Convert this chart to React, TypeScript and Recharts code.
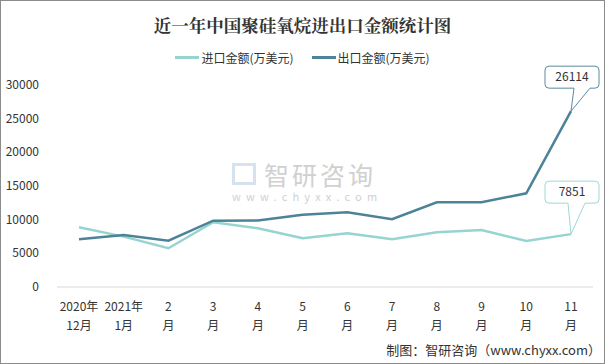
import React from 'react';
import { LineChart, Line, XAxis, YAxis, LabelList } from 'recharts';

const months = ['2020年12月', '2021年1月', '2月', '3月', '4月', '5月', '6月', '7月', '8月', '9月', '10月', '11月'];
const importValues = [8870, 7480, 5750, 9610, 8720, 7230, 7970, 7080, 8130, 8470, 6830, 7851];
const exportValues = [7080, 7720, 6880, 9850, 9870, 10740, 11100, 10060, 12580, 12580, 13920, 26114];
const yTicks = [0, 5000, 10000, 15000, 20000, 25000, 30000];

const IMPORT_NAME = '进口金额(万美元)';
const EXPORT_NAME = '出口金额(万美元)';
const IMPORT_COLOR = '#96d4d0';
const EXPORT_COLOR = '#4d8399';
const FONT = '"Microsoft YaHei", "Noto Sans CJK SC", sans-serif';

const data = months.map((m, i) => ({
  month: m,
  imp: importValues[i],
  exp: exportValues[i],
}));

// 横轴两行标签
const splitLabel = (s: string) => {
  const i = s.indexOf('年');
  if (i >= 0) return [s.slice(0, i + 1), s.slice(i + 1)];
  return [s.replace('月', ''), '月'];
};

const XTick = ({ x, y, payload }: any) => {
  const [a, b] = splitLabel(payload.value);
  return (
    <g>
      <text x={x} y={y + 16} textAnchor="middle" fontSize={12} fill="#333" fontFamily={FONT}>{a}</text>
      <text x={x} y={y + 35} textAnchor="middle" fontSize={12} fill="#333" fontFamily={FONT}>{b}</text>
    </g>
  );
};

const YTick = ({ y, payload }: any) => (
  <text x={39} y={y + 4} textAnchor="end" fontSize={12} fill="#333" fontFamily={FONT}>{payload.value}</text>
);

// 最后一个点的气泡标注
const makeCallout = (color: string, lift: number, p1: number, p2: number) => (props: any) => {
  const { x, y, value, index } = props;
  if (index !== months.length - 1) return null;
  const l = x - 26, r = x + 28, b = y - lift, t = b - 22, k = 4;
  const d = `M${l + k},${t} H${r - k} Q${r},${t} ${r},${t + k} V${b - k} Q${r},${b} ${r - k},${b} H${x + p2} L${x},${y} L${x + p1},${b} H${l + k} Q${l},${b} ${l},${b - k} V${t + k} Q${l},${t} ${l + k},${t} Z`;
  return (
    <g>
      <path d={d} fill="#fff" stroke={color} strokeWidth={1} />
      <text x={(l + r) / 2} y={t + 15} textAnchor="middle" fontSize={12} fill="#333" fontFamily={FONT}>{value}</text>
    </g>
  );
};

const legendItems = [[IMPORT_NAME, IMPORT_COLOR], [EXPORT_NAME, EXPORT_COLOR]];

export default function App() {
  return (
    <div style={{ position: 'absolute', left: 0, top: 0, width: 605, height: 364, background: '#fff' }}>
      <div style={{ position: 'absolute', left: 0, top: 0, width: 603, height: 362, border: '1px solid #8c8c8c' }} />
      <div style={{ position: 'absolute', left: 0, top: 12, width: 605, textAlign: 'center', fontSize: 17.5, fontWeight: 'bold', color: '#333', fontFamily: '"Noto Serif CJK SC", "Noto Sans CJK SC", serif' }}>
        近一年中国聚硅氧烷进出口金额统计图
      </div>
      {/* 图例 */}
      <div style={{ position: 'absolute', left: 0, top: 49, width: 605, display: 'flex', justifyContent: 'center', fontSize: 12, color: '#333', fontFamily: FONT }}>
        {legendItems.map(([n, c], i) => (
          <span key={n} style={{ display: 'flex', alignItems: 'center', marginLeft: i ? 18 : 0 }}>
            <span style={{ display: 'inline-block', width: 24, height: 3, background: c, marginRight: 2 }} />
            {n}
          </span>
        ))}
      </div>
      {/* 水印 */}
      <div style={{ position: 'absolute', left: 232, top: 160, color: '#d0d0d0', fontFamily: FONT }}>
        <div style={{ display: 'flex', alignItems: 'center' }}>
          <span style={{ display: 'inline-block', width: 24, height: 22, border: '3px solid #d6e2ee', boxSizing: 'border-box', marginRight: 8 }} />
          <span style={{ fontSize: 25, letterSpacing: 3, lineHeight: '28px' }}>智研咨询</span>
        </div>
        <div style={{ fontSize: 11, letterSpacing: 5.2 }}>www.chyxx.com</div>
      </div>
      <div style={{ position: 'absolute', right: 4, top: 340, fontSize: 13, color: '#333', fontFamily: FONT }}>
        制图：智研咨询（www.chyxx.com）
      </div>
      <div style={{ position: 'absolute', left: 0, top: 0 }}>
        <LineChart width={605} height={364} data={data} margin={{ top: 85, right: 12, bottom: 0, left: 0 }}>
          <XAxis dataKey="month" interval={0} tickLine={false} axisLine={{ stroke: '#d9d9d9' }} tick={<XTick />} height={77} padding={{ left: 22, right: 22 }} />
          <YAxis width={57} domain={[0, 30000]} ticks={yTicks} axisLine={false} tickLine={false} tick={<YTick />} />
          <Line type="linear" dataKey="imp" name={IMPORT_NAME} stroke={IMPORT_COLOR} strokeWidth={2.5} dot={false} isAnimationActive={false}>
            <LabelList dataKey="imp" content={makeCallout('#9fd8d5', 31, -3, 14)} />
          </Line>
          <Line type="linear" dataKey="exp" name={EXPORT_NAME} stroke={EXPORT_COLOR} strokeWidth={2.5} dot={false} isAnimationActive={false}>
            <LabelList dataKey="exp" content={makeCallout('#5a8aa0', 23, 3, 19)} />
          </Line>
        </LineChart>
      </div>
    </div>
  );
}
